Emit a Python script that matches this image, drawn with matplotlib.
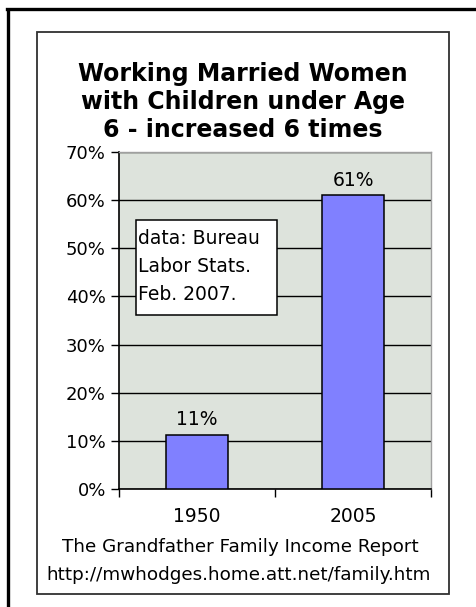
import matplotlib
matplotlib.use("Agg")
import matplotlib.pyplot as plt
from matplotlib.patches import Rectangle
from matplotlib.lines import Line2D
from matplotlib.ticker import FixedLocator, PercentFormatter

# ---- data ----
categories = ["1950", "2005"]
values = [11.3, 61.0]
value_labels = ["11%", "61%"]
y_ticks = [0, 10, 20, 30, 40, 50, 60, 70]
title_text = "Working Married Women\nwith Children under Age\n6 - increased 6 times"
note_text = "data: Bureau\nLabor Stats.\nFeb. 2007."
footer_lines = ["The Grandfather Family Income Report",
                "http://mwhodges.home.att.net/family.htm"]

W, H = 476, 607
fig = plt.figure(figsize=(W / 100, H / 100), dpi=100)
fig.patch.set_facecolor("white")
plt.rcParams["font.family"] = ["DejaVu Sans"]

def fx(px):
    return px / W

def fy(py):
    return 1 - py / H

# outer frame (left and top lines)
fig.add_artist(Line2D([fx(8), fx(8)], [fy(10), 0], color="black", lw=2.4, transform=fig.transFigure))
fig.add_artist(Line2D([fx(7), 1], [fy(9), fy(9)], color="black", lw=2.4, transform=fig.transFigure))

# inner chart-area frame
fig.add_artist(Rectangle((fx(37), fy(594)), fx(449) - fx(37), fy(32) - fy(594),
                         transform=fig.transFigure, fill=False, edgecolor="#303030", lw=1.3))

# plot axes
ax = fig.add_axes([fx(119), fy(489), fx(431) - fx(119), fy(152) - fy(489)])
ax.set_facecolor("#dde3dc")
x = list(range(len(categories)))
bars = ax.bar(x, values, width=0.4, color="#8080ff", edgecolor="black", linewidth=1.1, zorder=3)
ax.set_xlim(-0.5, len(categories) - 0.5)
ax.set_ylim(0, 70)
ax.yaxis.set_major_locator(FixedLocator(y_ticks))
ax.yaxis.set_major_formatter(PercentFormatter(decimals=0))
ax.grid(axis="y", color="black", lw=1.0, zorder=1)
ax.set_axisbelow(True)

ax.xaxis.set_major_locator(FixedLocator([i - 0.5 for i in range(len(categories) + 1)]))
ax.xaxis.set_major_formatter(plt.NullFormatter())
ax.xaxis.set_minor_locator(FixedLocator(x))
ax.set_xticklabels(categories, minor=True)
ax.tick_params(axis="x", which="major", direction="out", length=6, width=1.0)
ax.tick_params(axis="x", which="minor", length=0, pad=13, labelsize=13.5)
ax.tick_params(axis="y", direction="out", length=6, width=1.0, labelsize=13, pad=3.5)

for s in ["left", "bottom"]:
    ax.spines[s].set_color("black")
    ax.spines[s].set_linewidth(1.2)
for s in ["top", "right"]:
    ax.spines[s].set_color("#a0a0a0")
    ax.spines[s].set_linewidth(1.0)

for b, lab in zip(bars, value_labels):
    ax.annotate(lab, (b.get_x() + b.get_width() / 2, b.get_height()),
                xytext=(0, 4), textcoords="offset points", ha="center", va="bottom",
                fontsize=13.5, zorder=5)

# note box
fig.add_artist(Rectangle((fx(136), fy(315)), fx(277) - fx(136), fy(220) - fy(315),
                         transform=fig.transFigure, facecolor="white", edgecolor="black", lw=1.1, zorder=10))
fig.text(fx(138), fy(267), note_text, ha="left", va="center", fontsize=13.5,
         linespacing=1.6, zorder=11)

# title
fig.text(fx(243), fy(102), title_text, ha="center", va="center", fontsize=17,
         fontweight="bold", linespacing=1.2)

# footer
fig.text(fx(240), fy(547), footer_lines[0], ha="center", va="center", fontsize=13.2)
fig.text(fx(239), fy(575), footer_lines[1], ha="center", va="center", fontsize=13.2)

fig.savefig("out.png", dpi=100)
